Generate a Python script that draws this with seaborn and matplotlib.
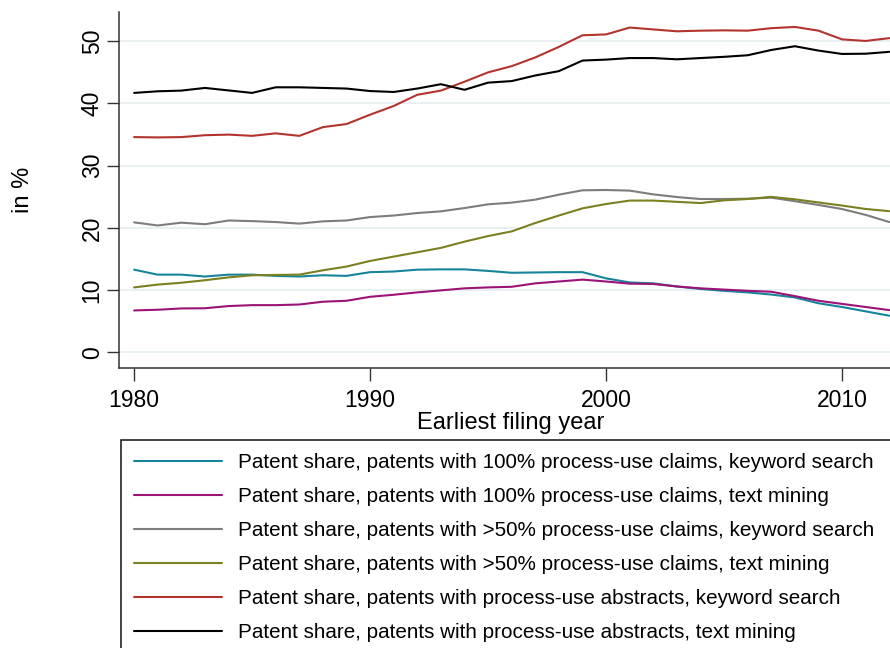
import matplotlib
matplotlib.use("Agg")
import matplotlib.pyplot as plt
import seaborn as sns
import pandas as pd
import numpy as np

years = list(range(1980, 2013))

claims100_keyword = [13.3, 12.5, 12.5, 12.2, 12.5, 12.5, 12.3, 12.2, 12.4, 12.3, 12.9, 13.0, 13.3, 13.35, 13.35,
                     13.1, 12.8, 12.85, 12.9, 12.9, 11.9, 11.25, 11.1, 10.6, 10.2, 9.9, 9.65, 9.3, 8.84, 7.9, 7.3, 6.6, 5.9]
claims100_text = [6.75, 6.86, 7.07, 7.1, 7.45, 7.6, 7.6, 7.7, 8.15, 8.3, 8.94, 9.27, 9.65, 9.97, 10.3,
                  10.45, 10.55, 11.1, 11.4, 11.7, 11.4, 11.05, 11.0, 10.6, 10.3, 10.1, 9.9, 9.75, 9.05, 8.3, 7.8, 7.3, 6.8]
claims50_keyword = [20.9, 20.4, 20.85, 20.6, 21.2, 21.1, 20.95, 20.7, 21.06, 21.2, 21.75, 22.0, 22.4, 22.67, 23.2,
                    23.8, 24.07, 24.55, 25.35, 26.05, 26.1, 26.0, 25.4, 24.97, 24.65, 24.65, 24.7, 24.87, 24.3, 23.7, 23.04, 22.1, 20.95]
claims50_text = [10.45, 10.9, 11.2, 11.6, 12.06, 12.4, 12.45, 12.5, 13.2, 13.8, 14.7, 15.4, 16.1, 16.8, 17.8,
                 18.7, 19.45, 20.8, 22.0, 23.15, 23.85, 24.4, 24.4, 24.2, 24.0, 24.44, 24.65, 25.0, 24.6, 24.1, 23.6, 23.05, 22.7]
abstracts_keyword = [34.6, 34.55, 34.6, 34.9, 35.0, 34.8, 35.2, 34.8, 36.2, 36.7, 38.2, 39.6, 41.4, 42.07, 43.5,
                     45.0, 46.0, 47.4, 49.1, 50.96, 51.1, 52.2, 51.9, 51.6, 51.7, 51.75, 51.7, 52.1, 52.3, 51.7, 50.3, 50.05, 50.5]
abstracts_text = [41.7, 41.96, 42.07, 42.5, 42.1, 41.7, 42.6, 42.6, 42.5, 42.4, 42.0, 41.85, 42.4, 43.1, 42.2,
                  43.35, 43.6, 44.5, 45.2, 46.9, 47.05, 47.3, 47.3, 47.1, 47.3, 47.5, 47.75, 48.6, 49.2, 48.5, 47.96, 48.0, 48.3]

labels = [
    "Patent share, patents with 100% process-use claims, keyword search",
    "Patent share, patents with 100% process-use claims, text mining",
    "Patent share, patents with >50% process-use claims, keyword search",
    "Patent share, patents with >50% process-use claims, text mining",
    "Patent share, patents with process-use abstracts, keyword search",
    "Patent share, patents with process-use abstracts, text mining",
]
series = [claims100_keyword, claims100_text, claims50_keyword, claims50_text, abstracts_keyword, abstracts_text]
colors = ["#16849a", "#9c1377", "#7d7d7d", "#7b8020", "#b3342f", "#000000"]

x_ticks = [1980, 1990, 2000, 2010]
y_ticks = [0, 10, 20, 30, 40, 50]

df = pd.concat([pd.DataFrame({"year": years, "value": v, "series": lab}) for lab, v in zip(labels, series)],
               ignore_index=True)

sns.set_theme(style="white")
plt.rcParams["font.family"] = ["Liberation Sans", "DejaVu Sans"]
plt.rcParams["text.color"] = "black"
plt.rcParams["axes.labelcolor"] = "black"
plt.rcParams["xtick.color"] = "black"
plt.rcParams["ytick.color"] = "black"

fig = plt.figure(figsize=(8.9, 6.48), dpi=100)
ax = fig.add_axes([119 / 890, 1 - 368 / 648, 1 - 119 / 890, (368 - 12) / 648])

sns.lineplot(data=df, x="year", y="value", hue="series", hue_order=labels, palette=colors,
             linewidth=1.5, ax=ax, legend=False)

ax.set_xlim(1979.36, 2012.03)
ax.set_ylim(-2.5, 54.7)
ax.set_xticks(x_ticks)
ax.set_yticks(y_ticks)
ax.set_xticklabels([str(t) for t in x_ticks], fontsize=16.5)
ax.set_yticklabels([str(t) for t in y_ticks], fontsize=16.5, rotation=90, va="center")
ax.tick_params(axis="both", direction="out", length=9, width=1, color="#333333",
               labelcolor="black", bottom=True, left=True)
ax.tick_params(axis="x", pad=6)
ax.tick_params(axis="y", pad=2)
ax.yaxis.grid(True, color="#e6eff1", linewidth=1.3)
ax.xaxis.grid(False)
for s in ["top", "right"]:
    ax.spines[s].set_visible(False)
for s in ["left", "bottom"]:
    ax.spines[s].set_color("#333333")
    ax.spines[s].set_linewidth(1.1)

ax.set_xlabel("Earliest filing year", fontsize=17, color="black")
ax.set_ylabel("in %", fontsize=17, color="black")
ax.xaxis.set_label_coords(0.508, -0.123)
ax.yaxis.set_label_coords(-0.11, 0.5)

handles = [plt.Line2D([], [], color=c, linewidth=1.5) for c in colors]
leg = fig.legend(handles, labels, loc="upper left", bbox_to_anchor=(121 / 890, 1 - 440 / 648, 0.9, 0),
                 mode="expand", fontsize=14.9, frameon=True, fancybox=False, edgecolor="#222222",
                 framealpha=1, borderpad=0.65, handlelength=4.25, handletextpad=0.77,
                 labelspacing=0.72, borderaxespad=0)
leg.get_frame().set_linewidth(1.2)
for t in leg.get_texts():
    t.set_color("black")

fig.savefig("out.png", dpi=100)
